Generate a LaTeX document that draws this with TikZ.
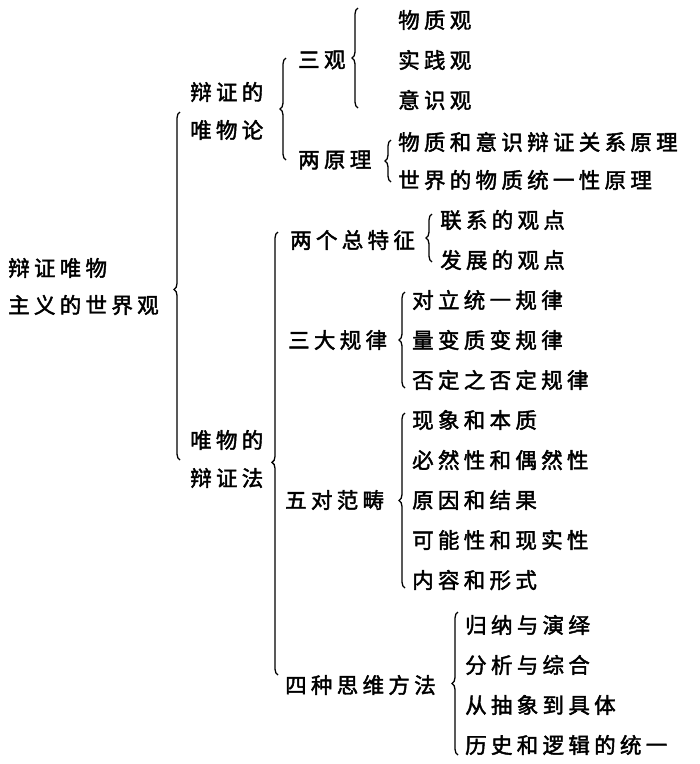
\documentclass[tikz,border=0pt]{standalone}
\usepackage{fontspec}
\newfontfamily\cjk{Noto Sans CJK SC}[FakeBold=2,LetterSpace=20]
\usetikzlibrary{decorations.pathreplacing}
\begin{document}
\begin{tikzpicture}[x=1pt,y=-1pt,
  t/.style={anchor=west,inner sep=0pt,font=\cjk\fontsize{21.5}{21.5}\selectfont},
  br/.style={decorate,decoration={brace,amplitude=6pt,aspect=#1},line width=1.3pt},
  br/.default=0.5]
\useasboundingbox (0,0) rectangle (700,764);
\fill[white] (0,0) rectangle (700,764);
% root
\node[t] (r1) at (8,268) {辩证唯物};
\node[t] (r2) at (8,305) {主义的世界观};
% level 1
\node[t] (a1) at (190,92) {辩证的};
\node[t] (a2) at (190,130) {唯物论};
\node[t] (b1) at (190,440) {唯物的};
\node[t] (b2) at (190,478) {辩证法};
% level 2 under a
\node[t] (sg) at (298,60) {三观};
\node[t] (lyl) at (298,160) {两原理};
\node[t] (sg1) at (398,20) {物质观};
\node[t] (sg2) at (398,60) {实践观};
\node[t] (sg3) at (398,100) {意识观};
\node[t] (ly1) at (398,142) {物质和意识辩证关系原理};
\node[t] (ly2) at (398,180) {世界的物质统一性原理};
% level 2 under b
\node[t] (lg) at (290,240) {两个总特征};
\node[t] (lg1) at (440,220) {联系的观点};
\node[t] (lg2) at (440,260) {发展的观点};
\node[t] (sd) at (288,340) {三大规律};
\node[t] (sd1) at (412,300) {对立统一规律};
\node[t] (sd2) at (412,340) {量变质变规律};
\node[t] (sd3) at (412,380) {否定之否定规律};
\node[t] (wd) at (285,500) {五对范畴};
\node[t] (wd1) at (412,420) {现象和本质};
\node[t] (wd2) at (412,460) {必然性和偶然性};
\node[t] (wd3) at (412,500) {原因和结果};
\node[t] (wd4) at (412,540) {可能性和现实性};
\node[t] (wd5) at (412,580) {内容和形式};
\node[t] (sz) at (285,685) {四种思维方法};
\node[t] (sz1) at (465,625) {归纳与演绎};
\node[t] (sz2) at (465,665) {分析与综合};
\node[t] (sz3) at (465,705) {从抽象到具体};
\node[t] (sz4) at (465,745) {历史和逻辑的统一};
% braces
\draw[br=0.49] (180,460) -- (180,112);
\draw[br] (286,160) -- (286,58);
\draw[br] (358,108) -- (358,8);
\draw[br] (391,182) -- (391,140);
\draw[br=0.48] (278,675) -- (278,232);
\draw[br] (432,262) -- (432,214);
\draw[br] (405,388) -- (405,292);
\draw[br] (405,588) -- (405,413);
\draw[br] (458,755) -- (458,612);
\end{tikzpicture}
\end{document}
